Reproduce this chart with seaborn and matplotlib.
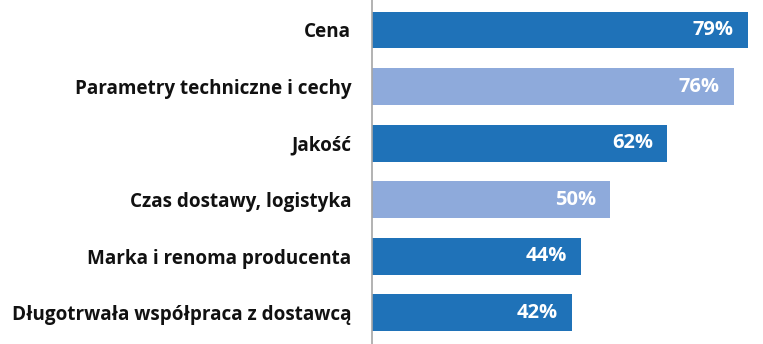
import matplotlib
matplotlib.use("Agg")
import matplotlib.pyplot as plt
import seaborn as sns
import pandas as pd

categories = ["Cena", "Parametry techniczne i cechy", "Jakość",
              "Czas dostawy, logistyka", "Marka i renoma producenta",
              "Długotrwała współpraca z dostawcą"]
values = [79, 76, 62, 50, 44, 42]
colors = ["#1f72b8", "#8eaadb", "#1f72b8", "#8eaadb", "#1f72b8", "#1f72b8"]

df = pd.DataFrame({"cat": categories, "val": values})

sns.set_theme(style="white")
plt.rcParams['font.family'] = ['Open Sans', 'DejaVu Sans']

fig = plt.figure(figsize=(7.63, 3.44), dpi=100)
ax = fig.add_axes([372/763, 0, 1 - 372/763, 1])
sns.barplot(data=df, y="cat", x="val", hue="cat", palette=colors, legend=False,
            orient="h", width=0.65, ax=ax, saturation=1, edgecolor="none")

ax.set_xlim(0, (763 - 372) / 4.76)
ax.set_ylim(5.55, -0.53)
for s in ["top", "right", "bottom"]:
    ax.spines[s].set_visible(False)
ax.spines["left"].set_color("#a6a6a6")
ax.spines["left"].set_linewidth(1.2)
ax.set_xticks([])
ax.set_xlabel("")
ax.set_ylabel("")
ax.tick_params(axis="y", length=0, pad=15)
for lbl in ax.get_yticklabels():
    lbl.set_fontweight("bold")
    lbl.set_fontsize(13.6)
    lbl.set_color("#111111")

for i, v in enumerate(values):
    ax.text(v - 3.0, i, f"{v}%", ha="right", va="center", color="white",
            fontsize=14.5, fontweight="bold")

fig.savefig("out.png", dpi=100)
